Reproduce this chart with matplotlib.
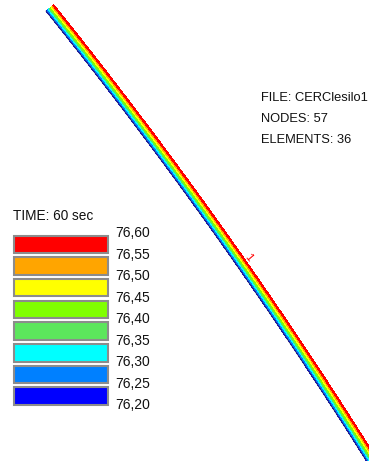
import numpy as np
import matplotlib
matplotlib.use("Agg")
import matplotlib.pyplot as plt
from matplotlib.patches import Rectangle

plt.rcParams['font.family'] = ['Liberation Sans', 'DejaVu Sans']

# Temperature contour levels (decimal comma labels) and their fill colours
levels = [76.20, 76.25, 76.30, 76.35, 76.40, 76.45, 76.50, 76.55, 76.60]
level_labels = ["76,20", "76,25", "76,30", "76,35", "76,40", "76,45", "76,50", "76,55", "76,60"]
level_colors = ["#0000ff", "#0080ff", "#00ffff", "#5ce65c", "#80ff00", "#ffff00", "#ffa500", "#ff0000"]

# Silo wall arc (screen units): start, a point on the mid-line, end; wall thickness
arc_points = [(50.0, 8.0), (218.0, 230.0), (373.0, 462.0)]
wall_thickness = 10.0
face_temps = [76.20, 76.60]   # inner (lower-left) face, outer (upper-right) face

time_label = "TIME: 60 sec"
info_lines = ["FILE: CERClesilo1", "NODES: 57", "ELEMENTS: 36"]
node_label = "1"

W, H = 369, 461
fig = plt.figure(figsize=(W / 100, H / 100), dpi=100)
ax = fig.add_axes([0, 0, 1, 1])
ax.set_xlim(0, W)
ax.set_ylim(H, 0)
ax.axis("off")


def circle_through(p1, p2, p3):
    (x1, y1), (x2, y2), (x3, y3) = p1, p2, p3
    a = np.array([[x2 - x1, y2 - y1], [x3 - x1, y3 - y1]]) * 2
    b = np.array([x2**2 - x1**2 + y2**2 - y1**2, x3**2 - x1**2 + y3**2 - y1**2])
    c = np.linalg.solve(a, b)
    return c, np.hypot(x1 - c[0], y1 - c[1])


center, radius = circle_through(*arc_points)
ang0 = np.arctan2(arc_points[0][1] - center[1], arc_points[0][0] - center[0])
ang1 = np.arctan2(arc_points[2][1] - center[1], arc_points[2][0] - center[0])
theta = np.linspace(ang0, ang1, 200)
half = wall_thickness / 2
r_faces = [radius - half, radius + half]
# order the faces so that the first one is the lower-left (inner) face
mid = np.array(arc_points[1])
outward = (mid - center) / np.linalg.norm(mid - center)
if outward[0] < 0:
    r_faces = r_faces[::-1]
X = np.array([center[0] + r * np.cos(theta) for r in r_faces])
Y = np.array([center[1] + r * np.sin(theta) for r in r_faces])
Z = np.array([[face_temps[0]] * len(theta), [face_temps[1]] * len(theta)])
ax.contourf(X, Y, Z, levels=levels, colors=level_colors, antialiased=False)
# element edge on the inner face
ax.plot(X[0], Y[0], color="#404040", lw=0.8, alpha=0.7)

# Node number
ax.text(248, 257, node_label, color="#ff0000", fontsize=8, rotation=-50,
        ha="center", va="center")

# Info block
for i, line in enumerate(info_lines):
    ax.text(261, 98 + 21 * i, line, fontsize=9.3, color="#111111", va="center", ha="left",
            clip_on=True)

# Legend
ax.text(13, 216, time_label, fontsize=9.8, color="#111111", va="center", ha="left")
box_top, box_h, box_step = 235.5, 17.5, 21.7
for i, col in enumerate(reversed(level_colors)):
    y = box_top + i * box_step
    ax.add_patch(Rectangle((13.5, y), 94, box_h, facecolor=col,
                           edgecolor="#8c8c8c", lw=1.5))
for i, lab in enumerate(reversed(level_labels)):
    ax.text(115, 233 + i * 21.5, lab, fontsize=10, color="#111111", va="center", ha="left")

fig.savefig("out.png", dpi=100)
